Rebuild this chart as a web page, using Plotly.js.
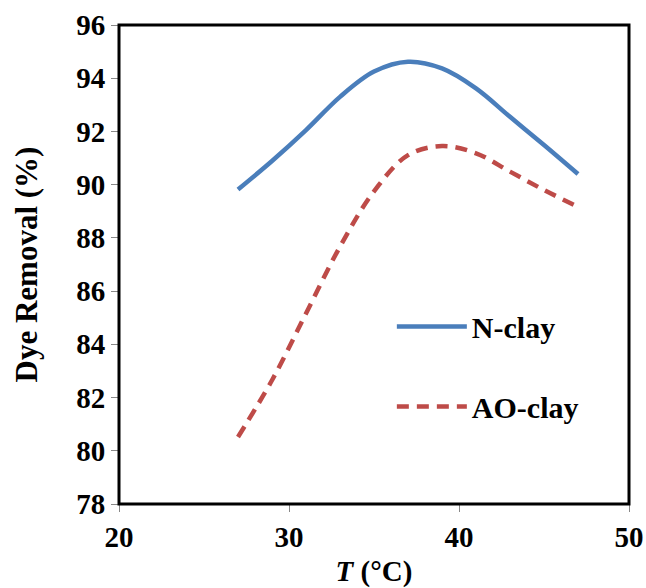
<!DOCTYPE html>
<html>
<head>
<meta charset="utf-8">
<script src="https://cdn.plot.ly/plotly-3.0.1.min.js"></script>
<style>html,body{margin:0;padding:0;background:#fff;}#chart{width:646px;height:588px;}</style>
</head>
<body>
<div id="chart"></div>
<script>
const temperature = [27, 29, 31, 33, 35, 37, 39, 41, 43, 45, 47];
const nClay  = [89.82, 90.89, 92.05, 93.30, 94.25, 94.62, 94.37, 93.62, 92.55, 91.49, 90.40];
const aoClay = [80.52, 82.65, 85.16, 87.67, 89.75, 91.11, 91.45, 91.18, 90.49, 89.80, 89.17];
const seriesNames = ['N-clay', 'AO-clay'];
const xTicks = [20, 30, 40, 50];
const yTicks = [78, 80, 82, 84, 86, 88, 90, 92, 94, 96];

const fontFam = '"Liberation Serif", "Times New Roman", serif';
const f = (size) => ({family: fontFam, size: size, color: '#000', weight: 700});

const traces = [
  {x: temperature, y: nClay, name: '<b>' + seriesNames[0] + '</b>', mode: 'lines', legendgroup: 'a',
   line: {color: '#4A7EBB', width: 4.5, shape: 'spline', smoothing: 1}},
  {x: temperature, y: aoClay, name: '<b>' + seriesNames[1] + '</b>', mode: 'lines', legendgroup: 'b',
   line: {color: '#BE4B48', width: 4.5, shape: 'spline', smoothing: 1, dash: '12px,8px'}}
];

const layout = {
  width: 646, height: 588,
  margin: {l: 119, r: 17, t: 25, b: 84},
  paper_bgcolor: '#fff', plot_bgcolor: '#fff',
  font: f(28),
  showlegend: true,
  legend: {x: 0.535, y: 0.425, xanchor: 'left', yanchor: 'top', bgcolor: 'rgba(0,0,0,0)',
    font: f(30), itemwidth: 70, tracegroupgap: 38, traceorder: 'grouped'},
  xaxis: {range: [20, 50], tickvals: xTicks, ticktext: xTicks.map(v => '<b>' + v + '</b>'),
    showgrid: false, zeroline: false, showline: true, linecolor: '#888', linewidth: 1,
    ticks: 'outside', ticklen: 7, tickcolor: '#888', tickwidth: 1,
    tickfont: f(29),
    title: {text: '<b><i>T</i> (°C)</b>', standoff: 10, font: f(29)}},
  yaxis: {range: [78, 96], tickvals: yTicks, ticktext: yTicks.map(v => '<b>' + v + '</b>'),
    showgrid: false, zeroline: false, showline: true, linecolor: '#888', linewidth: 1,
    ticks: 'outside', ticklen: 7, tickcolor: '#888', tickwidth: 1,
    tickfont: f(29),
    title: {text: '<b>Dye Removal (%)</b>', standoff: 29, font: f(31)}},
  shapes: [
    {type: 'rect', xref: 'paper', yref: 'paper', x0: 0, x1: 1, y0: 0, y1: 1,
     line: {color: '#000', width: 3}, fillcolor: 'rgba(0,0,0,0)', layer: 'above'}
  ]
};

Plotly.newPlot('chart', traces, layout, {displayModeBar: false, staticPlot: true});
</script>
</body>
</html>
